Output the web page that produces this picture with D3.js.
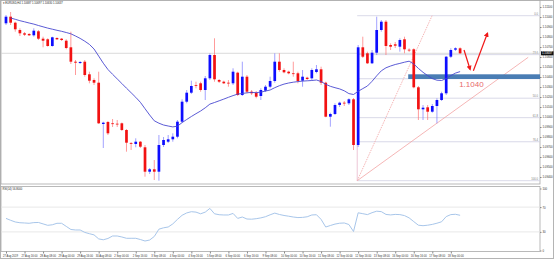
<!DOCTYPE html>
<html>
<head>
<meta charset="utf-8">
<script src="https://cdn.jsdelivr.net/npm/d3@7"></script>
<style>
body { margin: 0; background: #fff; }
svg { display: block; }
text { font-family: "Liberation Sans", Arial, sans-serif; }
</style>
</head>
<body>
<div id="chart"></div>
<script>
// EURUSD H4, 27 Aug - 18 Sep 2019
var open = [
  1.10937, 1.11003, 1.10943, 1.10870, 1.10837, 1.10830, 1.10817, 1.10857, 1.10783, 1.10777,
  1.10710, 1.10790, 1.10783, 1.10763, 1.10697, 1.10553, 1.10540, 1.10553, 1.10427, 1.10370,
  1.10343, 1.09930, 1.09950, 1.09937, 1.09933, 1.09937, 1.09870, 1.09740, 1.09730, 1.09753,
  1.09697, 1.09453, 1.09477, 1.09453, 1.09720, 1.09753, 1.09777, 1.09803, 1.09953, 1.10153,
  1.10243, 1.10320, 1.10337, 1.10270, 1.10387, 1.10620, 1.10370, 1.10353, 1.10343, 1.10337,
  1.10443, 1.10220, 1.10403, 1.10253, 1.10243, 1.10210, 1.10263, 1.10303, 1.10360, 1.10553,
  1.10470, 1.10453, 1.10437, 1.10437, 1.10363, 1.10393, 1.10387, 1.10450, 1.10477, 1.10343,
  1.10003, 1.10030, 1.10120, 1.10143, 1.10137, 1.10177, 1.09720, 1.10697, 1.10637, 1.10537,
  1.10643, 1.10870, 1.10953, 1.10720, 1.10727, 1.10703, 1.10777, 1.10673, 1.10677, 1.10297,
  1.10077, 1.10097, 1.10053, 1.10110, 1.10170, 1.10237, 1.10603, 1.10673, 1.10687
];
var high = [
  1.11020, 1.11050, 1.10953, 1.10887, 1.10850, 1.10840, 1.10887, 1.10870, 1.10803, 1.10787,
  1.10803, 1.10797, 1.10790, 1.10777, 1.10853, 1.10570, 1.10560, 1.10570, 1.10453, 1.10387,
  1.10453, 1.09953, 1.09960, 1.09980, 1.09970, 1.09945, 1.09880, 1.09750, 1.09787, 1.09760,
  1.09720, 1.09490, 1.09570, 1.09820, 1.09800, 1.09820, 1.09837, 1.09970, 1.10177, 1.10270,
  1.10363, 1.10353, 1.10353, 1.10410, 1.10637, 1.10787, 1.10380, 1.10363, 1.10370, 1.10487,
  1.10453, 1.10553, 1.10420, 1.10270, 1.10260, 1.10287, 1.10320, 1.10403, 1.10637, 1.10637,
  1.10487, 1.10463, 1.10553, 1.10453, 1.10470, 1.10403, 1.10487, 1.10520, 1.10503, 1.10353,
  1.10043, 1.10137, 1.10153, 1.10160, 1.10187, 1.10190, 1.10720, 1.10803, 1.10653, 1.10670,
  1.11003, 1.10970, 1.10970, 1.10737, 1.10750, 1.10787, 1.10803, 1.10687, 1.10687, 1.10310,
  1.10120, 1.10120, 1.10130, 1.10187, 1.10253, 1.10610, 1.10687, 1.10697, 1.10697
];
var low = [
  1.10920, 1.10920, 1.10853, 1.10810, 1.10810, 1.10810, 1.10803, 1.10770, 1.10697, 1.10703,
  1.10703, 1.10770, 1.10760, 1.10677, 1.10530, 1.10420, 1.10530, 1.10403, 1.10337, 1.10320,
  1.09930, 1.09690, 1.09820, 1.09900, 1.09900, 1.09860, 1.09653, 1.09670, 1.09697, 1.09690,
  1.09403, 1.09430, 1.09370, 1.09363, 1.09700, 1.09740, 1.09753, 1.09787, 1.09943, 1.10137,
  1.10230, 1.10287, 1.10253, 1.10170, 1.10370, 1.10353, 1.10340, 1.10330, 1.10303, 1.10320,
  1.10210, 1.10210, 1.10237, 1.10220, 1.10187, 1.10170, 1.10250, 1.10287, 1.10343, 1.10453,
  1.10437, 1.10427, 1.10403, 1.10337, 1.10303, 1.10370, 1.10370, 1.10437, 1.10320, 1.09997,
  1.09903, 1.10020, 1.10100, 1.10110, 1.10120, 1.09670, 1.09700, 1.10590, 1.10530, 1.10530,
  1.10620, 1.10853, 1.10620, 1.10670, 1.10690, 1.10653, 1.10637, 1.10650, 1.10287, 1.09970,
  1.09970, 1.09970, 1.10043, 1.09937, 1.10160, 1.10220, 1.10590, 1.10660, 1.10630
];
var close = [
  1.11003, 1.10943, 1.10877, 1.10837, 1.10823, 1.10817, 1.10863, 1.10783, 1.10763, 1.10710,
  1.10797, 1.10777, 1.10770, 1.10690, 1.10553, 1.10543, 1.10550, 1.10420, 1.10363, 1.10343,
  1.09937, 1.09943, 1.09837, 1.09933, 1.09930, 1.09870, 1.09743, 1.09735, 1.09753, 1.09703,
  1.09453, 1.09477, 1.09453, 1.09720, 1.09770, 1.09777, 1.09803, 1.09953, 1.10153, 1.10243,
  1.10310, 1.10317, 1.10270, 1.10387, 1.10620, 1.10377, 1.10353, 1.10337, 1.10340, 1.10453,
  1.10220, 1.10403, 1.10253, 1.10237, 1.10203, 1.10270, 1.10303, 1.10360, 1.10553, 1.10470,
  1.10447, 1.10437, 1.10433, 1.10360, 1.10403, 1.10380, 1.10470, 1.10477, 1.10343, 1.10003,
  1.10030, 1.10120, 1.10143, 1.10137, 1.10177, 1.09720, 1.10697, 1.10603, 1.10537, 1.10643,
  1.10870, 1.10953, 1.10710, 1.10703, 1.10713, 1.10770, 1.10677, 1.10670, 1.10297, 1.10077,
  1.10093, 1.10053, 1.10110, 1.10170, 1.10237, 1.10603, 1.10670, 1.10687, 1.10637
];
// moving average
var ma = [
  null, 1.10990, 1.10977, 1.10963, 1.10952, 1.10940, 1.10929, 1.10915, 1.10902, 1.10889,
  1.10878, 1.10867, 1.10857, 1.10845, 1.10832, 1.10810, 1.10786, 1.10758, 1.10726, 1.10680,
  1.10609, 1.10538, 1.10475, 1.10427, 1.10381, 1.10335, 1.10288, 1.10243, 1.10197, 1.10147,
  1.10083, 1.10020, 1.09962, 1.09938, 1.09920, 1.09910, 1.09901, 1.09908, 1.09944, 1.09975,
  1.10005, 1.10033, 1.10060, 1.10092, 1.10129, 1.10145, 1.10162, 1.10179, 1.10197, 1.10214,
  1.10229, 1.10235, 1.10242, 1.10246, 1.10243, 1.10249, 1.10259, 1.10270, 1.10293, 1.10313,
  1.10329, 1.10340, 1.10348, 1.10354, 1.10359, 1.10362, 1.10365, 1.10370, 1.10355, 1.10327,
  1.10307, 1.10293, 1.10281, 1.10262, 1.10234, 1.10225, 1.10257, 1.10284, 1.10310, 1.10357,
  1.10412, 1.10462, 1.10492, 1.10510, 1.10525, 1.10536, 1.10548, 1.10558, 1.10530, 1.10486,
  1.10447, 1.10414, 1.10384, 1.10368, 1.10365, 1.10385, 1.10414, 1.10439, 1.10454
];
var rsi = [
  51.8, 48.7, 46.0, 44.8, 44.4, 43.9, 45.0, 45.2, 42.9, 40.6,
  41.5, 43.9, 43.9, 38.9, 33.9, 33.1, 33.1, 29.2, 27.1, 25.2,
  18.7, 17.3, 19.4, 23.4, 23.4, 21.8, 19.7, 19.7, 19.7, 17.7,
  15.3, 16.9, 22.6, 34.4, 36.6, 37.9, 42.9, 50.2, 56.8, 60.6,
  62.6, 61.9, 59.2, 61.9, 67.9, 59.2, 57.7, 57.3, 57.3, 59.8,
  51.8, 54.0, 50.8, 50.5, 51.3, 52.6, 54.5, 57.6, 60.3, 58.1,
  56.5, 55.3, 54.0, 53.1, 53.4, 54.4, 57.3, 57.7, 50.2, 37.9,
  40.3, 42.6, 44.0, 44.4, 41.9, 30.6, 60.8, 59.4, 57.9, 61.0,
  63.4, 62.7, 58.2, 57.4, 58.2, 57.9, 56.3, 52.6, 46.6, 40.8,
  40.0, 40.8, 42.1, 44.0, 46.3, 54.7, 57.9, 58.4, 56.8
];
var timeLabels = [
  "27 Aug 2019", "27 Aug 16:00", "28 Aug 08:00", "29 Aug 00:00", "29 Aug 16:00",
  "30 Aug 08:00", "2 Sep 00:00", "2 Sep 16:00", "3 Sep 08:00", "4 Sep 00:00",
  "4 Sep 16:00", "5 Sep 08:00", "6 Sep 00:00", "6 Sep 16:00", "9 Sep 08:00",
  "10 Sep 00:00", "10 Sep 16:00", "11 Sep 08:00", "12 Sep 00:00", "12 Sep 16:00",
  "13 Sep 08:00", "16 Sep 00:00", "16 Sep 16:00", "17 Sep 08:00", "18 Sep 00:00"
];
var priceTicks = d3.range(1.0940, 1.1115, 0.0010);
var rsiTicks = [0, 30, 70, 100];
var rsiLevels = [30, 70];

// fibonacci drawn from the 12 Sep low to the 13 Sep high
var fibLevels = [0, 23.6, 38.2, 50, 61.8, 76.4, 100];
var fibTop = 1.11013, fibBottom = 1.09363, fibStart = 75.8;
var fibDiag = [[75.8, 1.09363], [91.95, 1.11013]];
var trendLine = [[75.8, 1.09363], [112.7, 1.10597]];
var fibStem = [[75.8, 1.09720], [75.8, 1.09363]];
var zone = {from: 86.8, top: 1.10427, bottom: 1.10380, label: "1.1040", labelAt: [97.8, 1.10300]};
var arrows = [
  [[98.85, 1.10670], [100.15, 1.10477]],
  [[100.86, 1.10463], [103.9, 1.10837]]
];

var W = 554, H = 259;
var plotL = 1, plotR = 540, mainT = 0.5, mainB = 184, rsiT = 186.5, rsiB = 251.5;

var svg = d3.select('#chart').append('svg')
  .attr('width', W)
  .attr('height', H);

var x = d3.scaleLinear().domain([0, 98]).range([6, 460.1]);
var y = d3.scaleLinear().domain([1.0934, 1.1115]).range([183, 2]);
var yr = d3.scaleLinear().domain([0, 100]).range([250.5, 188.5]);

var defs = svg.append('defs');
defs.append('clipPath').attr('id', 'mainclip')
  .append('rect').attr('x', plotL).attr('y', mainT).attr('width', plotR - plotL).attr('height', mainB - mainT);
defs.append('marker')
  .attr('id', 'head')
  .attr('viewBox', '0 0 10 10')
  .attr('refX', 7).attr('refY', 5)
  .attr('markerWidth', 4.2).attr('markerHeight', 4.2)
  .attr('orient', 'auto')
  .append('path').attr('d', 'M0,0 L10,5 L0,10 z').attr('fill', '#f01818');

// frames
svg.append('rect').attr('x', 0.5).attr('y', 0.5).attr('width', W - 1).attr('height', H - 1)
  .attr('fill', 'none').attr('stroke', '#b4b4b4');
svg.append('rect').attr('x', plotL).attr('y', mainT).attr('width', plotR - plotL).attr('height', mainB - mainT)
  .attr('fill', '#fff').attr('stroke', '#a8a8a8').attr('stroke-width', 0.8);
svg.append('rect').attr('x', plotL).attr('y', rsiT).attr('width', plotR - plotL).attr('height', rsiB - rsiT)
  .attr('fill', '#fff').attr('stroke', '#a8a8a8').attr('stroke-width', 0.8);

var main = svg.append('g').attr('clip-path', 'url(#mainclip)');
var line = d3.line().x(function(d) { return x(d[0]); }).y(function(d) { return y(d[1]); });

// fib levels
main.selectAll('.fib')
  .data(fibLevels)
  .enter()
    .append('line')
    .attr('class', 'fib')
    .attr('x1', x(fibStart)).attr('x2', plotR)
    .attr('y1', function(d) { return y(fibTop - d / 100 * (fibTop - fibBottom)); })
    .attr('y2', function(d) { return y(fibTop - d / 100 * (fibTop - fibBottom)); })
    .attr('stroke', '#cfcfe2').attr('stroke-width', 0.8);
main.selectAll('.fiblbl')
  .data(fibLevels)
  .enter()
    .append('text')
    .attr('class', 'fiblbl')
    .attr('x', plotR - 2)
    .attr('y', function(d) { return y(fibTop - d / 100 * (fibTop - fibBottom)) - 1; })
    .attr('text-anchor', 'end')
    .attr('font-size', 2.7)
    .attr('fill', '#777')
    .text(function(d) { return d.toFixed(1); });

// bid line
main.append('line')
  .attr('x1', plotL).attr('x2', plotR)
  .attr('y1', y(close[close.length - 1])).attr('y2', y(close[close.length - 1]))
  .attr('stroke', '#d2d2d2').attr('stroke-width', 0.8);

// trend lines
main.append('path').attr('d', line(trendLine)).attr('fill', 'none')
  .attr('stroke', '#f2a3a3').attr('stroke-width', 0.8);
main.append('path').attr('d', line(fibDiag)).attr('fill', 'none')
  .attr('stroke', '#f2a3a3').attr('stroke-width', 0.8).attr('stroke-dasharray', '1.5,1');
main.append('path').attr('d', line(fibStem)).attr('fill', 'none')
  .attr('stroke', '#e8b8cc').attr('stroke-width', 0.8);

// support zone
main.append('rect')
  .attr('x', x(zone.from)).attr('y', y(zone.top))
  .attr('width', plotR - x(zone.from)).attr('height', y(zone.bottom) - y(zone.top))
  .attr('fill', '#4a7db4');

// candles
var idx = d3.range(open.length);
main.selectAll('.wick')
  .data(idx)
  .enter()
    .append('line')
    .attr('class', 'wick')
    .attr('x1', function(i) { return x(i); }).attr('x2', function(i) { return x(i); })
    .attr('y1', function(i) { return y(high[i]); }).attr('y2', function(i) { return y(low[i]); })
    .attr('stroke', function(i) { return close[i] >= open[i] ? '#7a7aff' : '#ff7070'; })
    .attr('stroke-width', 0.7);
main.selectAll('.body')
  .data(idx)
  .enter()
    .append('rect')
    .attr('class', 'body')
    .attr('x', function(i) { return x(i) - 1.35; })
    .attr('width', 2.7)
    .attr('y', function(i) { return y(Math.max(open[i], close[i])); })
    .attr('height', function(i) { return Math.max(0.8, Math.abs(y(open[i]) - y(close[i]))); })
    .attr('fill', function(i) { return close[i] >= open[i] ? '#0d0dff' : '#f21212'; });

// moving average
main.append('path')
  .attr('d', d3.line().defined(function(d) { return d != null; })
    .x(function(d, i) { return x(i); }).y(function(d) { return y(d); })(ma))
  .attr('fill', 'none').attr('stroke', '#4848d0').attr('stroke-width', 0.9);

// forecast arrows
main.selectAll('.arrow')
  .data(arrows)
  .enter()
    .append('path')
    .attr('class', 'arrow')
    .attr('d', function(d) { return line(d); })
    .attr('fill', 'none').attr('stroke', '#f01818').attr('stroke-width', 1.2)
    .attr('marker-end', 'url(#head)');

main.append('text')
  .attr('x', x(zone.labelAt[0])).attr('y', y(zone.labelAt[1]))
  .attr('font-size', 8).attr('fill', '#e86a6a')
  .text(zone.label);

// price axis
var pAxis = svg.append('g')
  .attr('transform', 'translate(' + plotR + ',0)')
  .call(d3.axisRight(y).tickValues(priceTicks).tickSize(1.5).tickPadding(1).tickFormat(d3.format('.5f')));
pAxis.select('.domain').remove();
pAxis.selectAll('text').attr('font-size', 2.8).attr('fill', '#333').attr('font-family', '"Liberation Sans", Arial, sans-serif');
pAxis.selectAll('line').attr('stroke', '#888');

// bid label
var bidY = y(close[close.length - 1]);
svg.append('rect').attr('x', plotR + 1).attr('y', bidY - 2).attr('width', 12.5).attr('height', 4).attr('fill', '#111');
svg.append('text').attr('x', plotR + 2).attr('y', bidY + 1)
  .attr('font-size', 2.8).attr('fill', '#fff')
  .text(d3.format('.5f')(close[close.length - 1]));

// rsi pane
svg.selectAll('.rlev')
  .data(rsiLevels)
  .enter()
    .append('line')
    .attr('class', 'rlev')
    .attr('x1', plotL).attr('x2', plotR)
    .attr('y1', function(d) { return yr(d); }).attr('y2', function(d) { return yr(d); })
    .attr('stroke', '#e2e2e2').attr('stroke-width', 0.8);
svg.append('path')
  .attr('d', d3.line().x(function(d, i) { return x(i); }).y(function(d) { return yr(d); })(rsi))
  .attr('fill', 'none').attr('stroke', '#a8c6ea').attr('stroke-width', 1);
var rAxis = svg.append('g')
  .attr('transform', 'translate(' + plotR + ',0)')
  .call(d3.axisRight(yr).tickValues(rsiTicks).tickSize(1.5).tickPadding(1));
rAxis.select('.domain').remove();
rAxis.selectAll('text').attr('font-size', 2.8).attr('fill', '#333').attr('font-family', '"Liberation Sans", Arial, sans-serif');
rAxis.selectAll('line').attr('stroke', '#888');

// time axis
var tAxis = svg.append('g')
  .attr('transform', 'translate(0,' + rsiB + ')')
  .call(d3.axisBottom(x)
    .tickValues(timeLabels.map(function(d, i) { return i * 4; }))
    .tickSize(2)
    .tickFormat(function(d, i) { return timeLabels[i]; }));
tAxis.select('.domain').remove();
tAxis.selectAll('line').attr('stroke', '#888');
tAxis.selectAll('text')
  .attr('font-size', 2.7).attr('fill', '#333').attr('font-family', '"Liberation Sans", Arial, sans-serif')
  .attr('text-anchor', 'start').attr('dx', -3.5).attr('dy', 0).attr('y', 5.2);

// titles
svg.append('text').attr('x', 2.5).attr('y', 4)
  .attr('font-size', 2.7).attr('fill', '#222')
  .text('\u25BE EURUSD,H4  ' + [open, high, low, close].map(function(a) { return a[a.length - 1].toFixed(5); }).join(' '));
svg.append('text').attr('x', 2.5).attr('y', rsiT + 3.5)
  .attr('font-size', 2.7).attr('fill', '#222')
  .text('RSI(14) ' + rsi[rsi.length - 1].toFixed(4));
</script>
</body>
</html>
